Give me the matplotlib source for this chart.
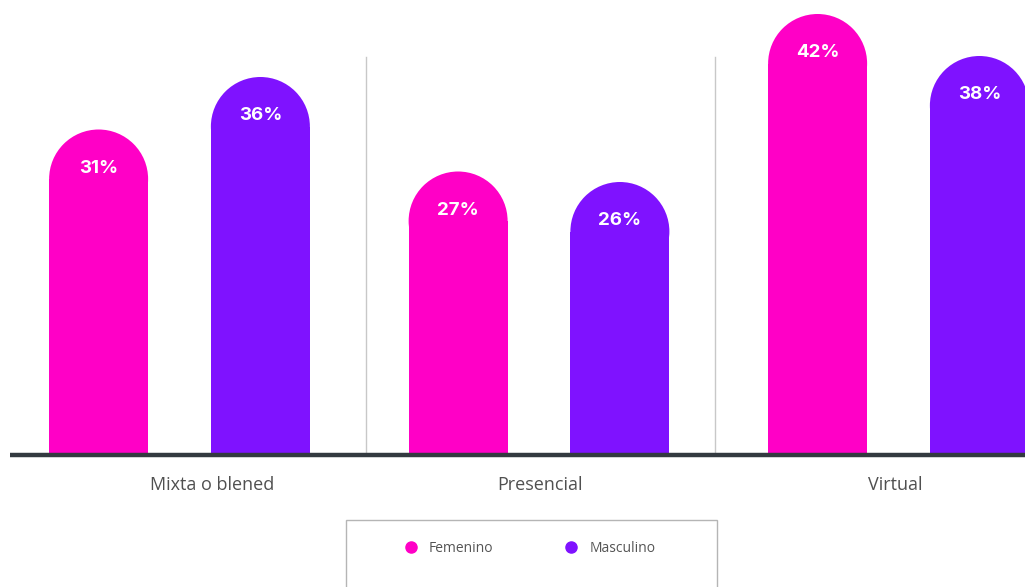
import matplotlib.pyplot as plt
from matplotlib.patches import Ellipse, Rectangle
from matplotlib.lines import Line2D

# Datos: porcentaje por modalidad y género
categorias = ['Mixta o blened', 'Presencial', 'Virtual']
femenino = [31, 27, 42]
masculino = [36, 26, 38]

col_fem = '#ff00c6'
col_masc = '#7f12ff'

W, H = 1025, 587
fig = plt.figure(figsize=(W / 100, H / 100), dpi=100)

# eje: y=0 en la línea base (px 455), 10.5 px por punto porcentual
base_px = 455
px_per_pct = 10.5
ax = fig.add_axes([0, 1 - base_px / H, 1, base_px / H])
ax.set_ylim(0, base_px / px_per_pct)
grp_px, grp_step = 179.5, 359.5
ax.set_xlim((0 - grp_px) / grp_step, (W - grp_px) / grp_step)
ax.axis('off')

ancho = 99 / grp_step
desp = 0.225
rx = ancho / 2
ry = 49.5 / px_per_pct

for i in range(len(categorias)):
    for x, v, c in [(i - desp, femenino[i], col_fem), (i + desp, masculino[i], col_masc)]:
        ax.bar(x, v - ry, width=ancho, color=c, linewidth=0)
        ax.add_patch(Ellipse((x, v - ry), 2 * rx, 2 * ry, color=c, linewidth=0))
        ax.text(x, v - 3.7, f'{v}%', color='white', ha='center', va='center',
                fontsize=13.5, fontweight='bold', family='Inter')

# separadores entre grupos
for s in [0.52, 1.49]:
    ax.plot([s, s], [0, 398 / px_per_pct], color='#c8c8c8', lw=1)

# línea base
ax.plot([(10 - grp_px) / grp_step, 3], [0, 0], color='#333a40', lw=3.2,
        solid_capstyle='butt', clip_on=False)

# etiquetas de categoría
pos_etiq = [212, 540, 895]
for p, t in zip(pos_etiq, categorias):
    fig.text(p / W, 1 - 485 / H, t, ha='center', va='center', fontsize=13,
             color='#505050', family='Open Sans')

# leyenda
fig.patches.append(Rectangle((346 / W, -0.01), (717 - 346) / W, 1 - 520 / H + 0.01,
                             transform=fig.transFigure, fill=False,
                             edgecolor='#b5b5b5', lw=1))
handles = [Line2D([], [], marker='o', ls='', color=col_fem, markersize=8),
           Line2D([], [], marker='o', ls='', color=col_masc, markersize=8)]
fig.legend(handles, ['Femenino', 'Masculino'], ncol=2, frameon=False,
           loc='center', bbox_to_anchor=(526 / W, 1 - 548 / H),
           columnspacing=4.6, handletextpad=0.3,
           prop={'family': 'Open Sans', 'size': 10}, labelcolor='#555555')

fig.savefig('out.png', dpi=100, facecolor='white')
